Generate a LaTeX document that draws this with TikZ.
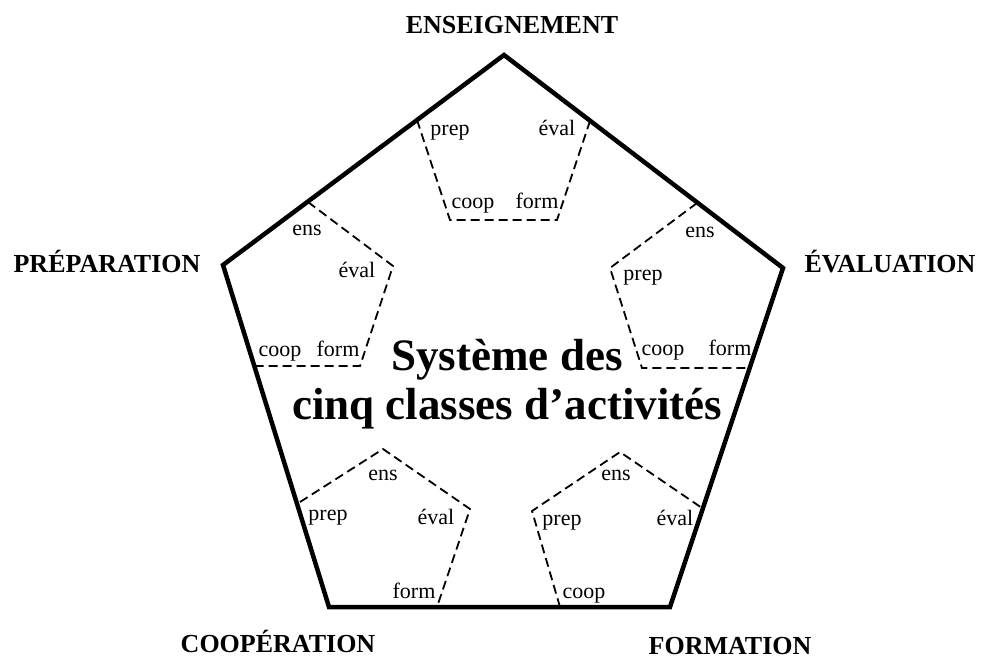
\documentclass[tikz,border=0pt]{standalone}
\usepackage{fontspec}
\setmainfont{Liberation Serif}
\begin{document}
\begin{tikzpicture}[x=1pt,y=-1pt,
  big/.style={line width=4.5pt,line join=miter},
  small/.style={line width=1.8pt,dash pattern=on 9pt off 5pt},
  lab/.style={anchor=base,inner sep=0pt,font=\fontsize{22}{24}\selectfont},
  vlab/.style={anchor=base,inner sep=0pt,font=\fontsize{26}{28}\selectfont\bfseries},
  ctr/.style={anchor=base,inner sep=0pt,font=\fontsize{45}{48}\selectfont\bfseries}]
\useasboundingbox (0,0) rectangle (981,659);
% big pentagon vertices
\coordinate (T) at (504,55);
\coordinate (R) at (783,268);
\coordinate (BR) at (670,607);
\coordinate (BL) at (329,607);
\coordinate (L) at (223,265);
% small pentagons (visible sides)
\coordinate (t1) at (417,120); \coordinate (t2) at (450,220); \coordinate (t3) at (557,220); \coordinate (t4) at (590,121);
\draw[small] (t1) -- (t2) -- (t3) -- (t4);
\coordinate (l1) at (308,202); \coordinate (l2) at (393,266); \coordinate (l3) at (360,366); \coordinate (l4) at (254,366);
\draw[small] (l1) -- (l2) -- (l3) -- (l4);
\coordinate (r1) at (697,203); \coordinate (r2) at (610,268); \coordinate (r3) at (642,368); \coordinate (r4) at (750,368);
\draw[small] (r1) -- (r2) -- (r3) -- (r4);
\coordinate (a1) at (300,502); \coordinate (a2) at (383,449); \coordinate (a3) at (470,509); \coordinate (a4) at (437,607);
\draw[small] (a1) -- (a2) -- (a3) -- (a4);
\coordinate (b1) at (560,607); \coordinate (b2) at (532,511); \coordinate (b3) at (620,452); \coordinate (b4) at (702,508);
\draw[small] (b1) -- (b2) -- (b3) -- (b4);
% big pentagon
\draw[big] (T) -- (R) -- (BR) -- (BL) -- (L) -- cycle;
% vertex labels
\node[vlab] (nE) at (512,33) {ENSEIGNEMENT};
\node[vlab] (nP) at (107,272) {PRÉPARATION};
\node[vlab] (nV) at (890,272) {ÉVALUATION};
\node[vlab] (nC) at (278,652) {COOPÉRATION};
\node[vlab] (nF) at (730,654) {FORMATION};
% center
\node[ctr] (c1) at (507,370) {Système des};
\node[ctr] (c2) at (507,419) {cinq classes d’activités};
% top small labels
\node[lab] (tp) at (450,135) {prep};
\node[lab] (te) at (557,135) {éval};
\node[lab] (tc) at (473,208) {coop};
\node[lab] (tf) at (537,208) {form};
% left
\node[lab] (le) at (307,235) {ens};
\node[lab] (lv) at (357,277) {éval};
\node[lab] (lc) at (280,356) {coop};
\node[lab] (lf) at (338,356) {form};
% right
\node[lab] (re) at (700,237) {ens};
\node[lab] (rp) at (643,280) {prep};
\node[lab] (rc) at (663,355) {coop};
\node[lab] (rf) at (730,355) {form};
% bottom-left
\node[lab] (ae) at (383,480) {ens};
\node[lab] (ap) at (328,520) {prep};
\node[lab] (av) at (436,524) {éval};
\node[lab] (af) at (414,598) {form};
% bottom-right
\node[lab] (be) at (616,480) {ens};
\node[lab] (bp) at (562,525) {prep};
\node[lab] (bv) at (675,525) {éval};
\node[lab] (bc) at (584,598) {coop};
\end{tikzpicture}
\end{document}
